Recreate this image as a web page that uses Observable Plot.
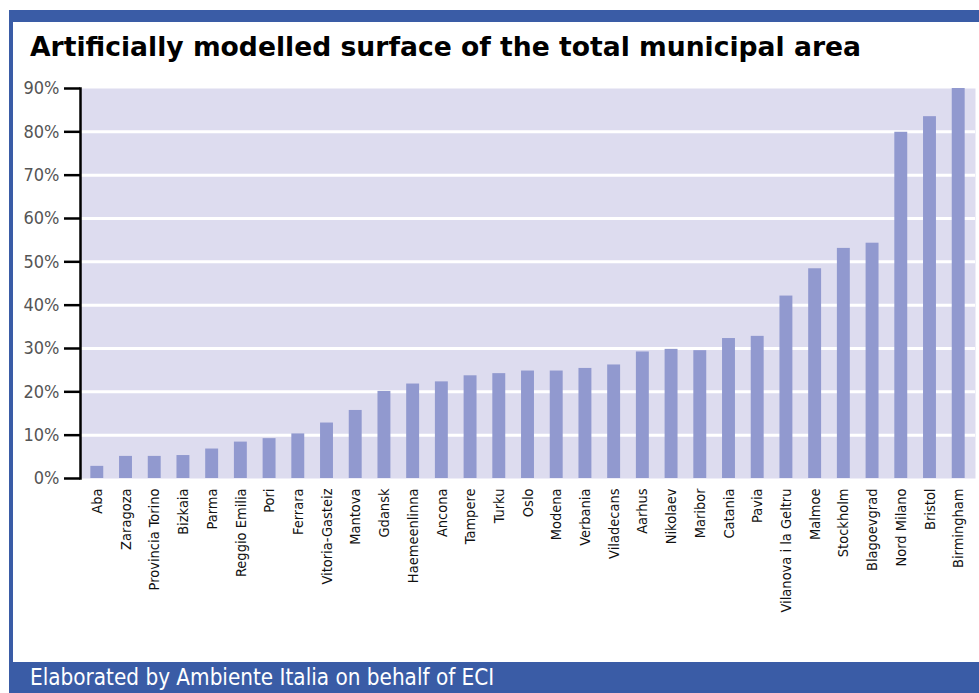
<!DOCTYPE html>
<html>
<head>
<meta charset="utf-8">
<script src="https://cdn.jsdelivr.net/npm/d3@7"></script>
<script src="https://cdn.jsdelivr.net/npm/@observablehq/plot@0.6"></script>
<style>
  html, body { margin: 0; padding: 0; background: #fff; width: 979px; height: 693px; overflow: hidden; }
  #topbar { position: absolute; left: 9px; top: 10px; width: 970px; height: 12px; background: #3a5ca6; }
  #leftbar { position: absolute; left: 9px; top: 10px; width: 4px; height: 683px; background: #3a5ca6; }
  #title { position: absolute; left: 30px; top: 31px; font-family: "DejaVu Sans", sans-serif; font-weight: bold; font-size: 26.6px; color: #000; white-space: nowrap; }
  #chart { position: absolute; left: 0; top: 70px; }
  #footer { position: absolute; left: 9px; top: 662px; width: 970px; height: 31px; background: #3a5ca6; color: #fff;
    font-family: "Liberation Sans Narrow", "DejaVu Sans Condensed", sans-serif; font-size: 22.3px; line-height: 31px; padding-left: 21px; box-sizing: border-box; white-space: nowrap; }
</style>
</head>
<body>
<div id="topbar"></div>
<div id="leftbar"></div>
<div id="title">Artificially modelled surface of the total municipal area</div>
<div id="chart"></div>
<div id="footer">Elaborated by Ambiente Italia on behalf of ECI</div>
<script>
const cities = ["Aba", "Zaragoza", "Provincia Torino", "Bizkaia", "Parma", "Reggio Emilia", "Pori", "Ferrara",
  "Vitoria-Gasteiz", "Mantova", "Gdansk", "Haemeenlinna", "Ancona", "Tampere", "Turku", "Oslo", "Modena",
  "Verbania", "Viladecans", "Aarhus", "Nikolaev", "Maribor", "Catania", "Pavia", "Vilanova i la Geltru",
  "Malmoe", "Stockholm", "Blagoevgrad", "Nord Milano", "Bristol", "Birmingham"];
const shares = [2.8, 5.1, 5.1, 5.3, 6.8, 8.4, 9.2, 10.3, 12.8, 15.7, 20.1, 21.8, 22.3, 23.7, 24.2, 24.8, 24.8,
  25.4, 26.2, 29.2, 29.8, 29.5, 32.3, 32.8, 42.1, 48.4, 53.1, 54.3, 79.9, 83.5, 90.0];
const yTicks = [0, 10, 20, 30, 40, 50, 60, 70, 80, 90];
const gridLines = [10, 20, 30, 40, 50, 60, 70, 80];

const data = cities.map((c, i) => ({city: c, value: shares[i]}));
const narrow = '"Liberation Sans Narrow", "DejaVu Sans Condensed", sans-serif';

const chart = Plot.plot({
  width: 979,
  height: 590,
  marginTop: 18,
  marginLeft: 80,
  marginRight: 4,
  marginBottom: 182,
  style: {fontFamily: narrow, background: "transparent"},
  x: {domain: cities, paddingInner: 0.55, paddingOuter: 0.36, round: false, label: null},
  y: {domain: [0, 90], label: null},
  marks: [
    Plot.frame({fill: "#dddcef", stroke: "none"}),
    Plot.ruleY(gridLines, {stroke: "#ffffff", strokeWidth: 3}),
    Plot.barY(data, {x: "city", y: "value", fill: "#9199cf"}),
    Plot.frame({anchor: "left", stroke: "#000", strokeWidth: 2.5}),
    Plot.axisY({ticks: yTicks, tickSize: 16, tickPadding: 5, strokeWidth: 2.5, stroke: "#000",
      tickFormat: d => d + "%", fontSize: 18, fill: "#555", label: null}),
    Plot.axisX({tickSize: 0, tickRotate: -90, tickPadding: 10, fontSize: 14.5, fill: "#111", label: null})
  ]
});
document.getElementById("chart").appendChild(chart);
</script>
</body>
</html>
